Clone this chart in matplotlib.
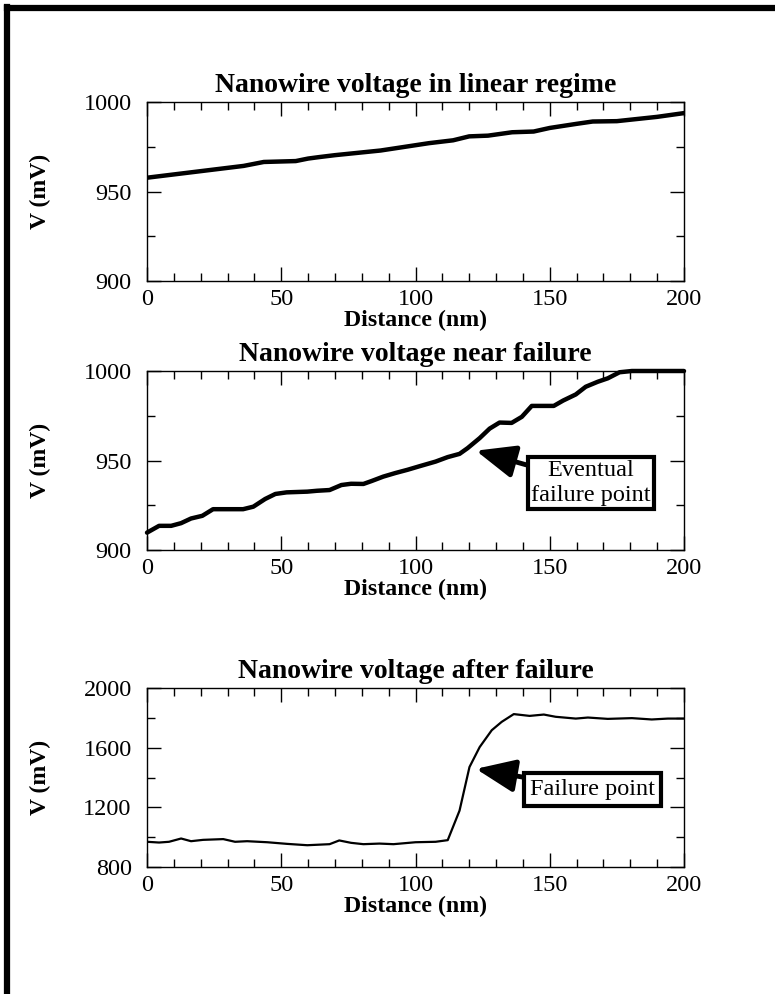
import matplotlib
matplotlib.use("Agg")
import matplotlib.pyplot as plt
from matplotlib.lines import Line2D
from matplotlib.ticker import MultipleLocator

plt.rcParams['font.family'] = ['Liberation Serif', 'DejaVu Serif']

# ---- data ----
d1 = [0, 36, 43.5, 55.4, 60, 64, 70, 87, 105, 114, 120, 127, 136, 144, 150, 160, 166, 175, 190, 200]
v1 = [957.7, 964.3, 966.5, 967, 968.4, 969.2, 970.3, 972.9, 977, 978.6, 980.8, 981.2, 983.1, 983.5,
      985.5, 987.8, 989.1, 989.3, 991.7, 993.8]

d2 = [0, 4.5, 9, 12.7, 16.4, 20.6, 24.6, 35.8, 39.6, 44, 47.8, 52, 59.7, 63.4, 68, 72.4, 76, 80.6,
      83.6, 88, 92.5, 97, 101.5, 107.5, 112, 116.4, 119.4, 123.9, 127.6, 131.3, 135.8, 139.6, 143.3,
      147, 151.5, 155, 159.7, 163.4, 167.9, 171.6, 176, 180.6, 200]
v2 = [909.7, 913.5, 913.5, 915, 917.6, 919.1, 922.8, 922.8, 924.2, 928.5, 931.3, 932.2, 932.6, 933.1,
      933.5, 936.3, 937, 936.9, 938.5, 941, 943, 944.8, 946.8, 949.4, 951.9, 953.7, 956.9, 962.5,
      967.8, 971.2, 971, 974.4, 980.5, 980.5, 980.5, 983.5, 986.9, 991.2, 994, 995.9, 999.3, 1000, 1000]

d3 = [0, 4.5, 8.2, 12.7, 16.4, 20.9, 28.4, 32.8, 37.3, 44.8, 52.2, 59.7, 68, 71.6, 76, 80.6, 86.6,
      91.8, 100, 107.5, 112, 116.4, 120.1, 123.9, 128.4, 132.1, 136.6, 142.5, 147.8, 152.2, 159.7,
      164.2, 171.6, 180.6, 188, 194, 200]
v3 = [969, 964, 969, 991, 973, 982, 987, 969, 973, 966, 955, 946, 953, 978, 962, 953, 957, 953, 966,
      969, 980, 1178, 1470, 1604, 1717, 1773, 1825, 1813, 1822, 1807, 1795, 1802, 1793, 1798, 1789,
      1795, 1795]

titles = ["Nanowire voltage in linear regime", "Nanowire voltage near failure",
          "Nanowire voltage after failure"]
xlabel = "Distance (nm)"
ylabel = "V (mV)"
xticks = [0, 50, 100, 150, 200]
yticks1 = [900, 950, 1000]
yticks3 = [800, 1200, 1600, 2000]

W, H = 775, 994
fig = plt.figure(figsize=(W / 100, H / 100), dpi=100)

left = 147 / W
width = (684 - 147) / W
tops = [102, 371, 688]
hgt = 179

def make_ax(top):
    ax = fig.add_axes([left, 1 - (top + hgt) / H, width, hgt / H])
    for s in ax.spines.values():
        s.set_linewidth(1.0)
    ax.tick_params(which='both', direction='in', top=True, right=True, labelsize=17.5)
    ax.tick_params(axis='x', pad=6)
    ax.tick_params(axis='y', pad=11)
    ax.tick_params(which='major', length=10, width=1)
    ax.tick_params(which='minor', length=6, width=1)
    ax.set_xlim(0, 200)
    ax.set_xticks(xticks)
    ax.xaxis.set_minor_locator(MultipleLocator(10))
    ax.set_xlabel(xlabel, fontsize=17.2, fontweight='bold', labelpad=0)
    ax.set_ylabel(ylabel, fontsize=17, fontweight='bold')
    ax.yaxis.set_label_coords((51 - 147) / (684 - 147), 0.5)
    return ax

arrow_kw = dict(arrowstyle='-|>,head_length=1.2,head_width=0.5', lw=3.5,
                color='black', shrinkA=0, shrinkB=0, mutation_scale=20)

ax1 = make_ax(tops[0])
ax1.plot(d1, v1, color='black', lw=3.2, solid_capstyle='round')
ax1.set_ylim(900, 1000)
ax1.set_yticks(yticks1)
ax1.yaxis.set_minor_locator(MultipleLocator(25))
ax1.set_title(titles[0], fontsize=20, fontweight='bold', pad=7)

ax2 = make_ax(tops[1])
ax2.plot(d2, v2, color='black', lw=3.2, solid_capstyle='round', clip_on=False)
ax2.set_ylim(900, 1000)
ax2.set_yticks(yticks1)
ax2.yaxis.set_minor_locator(MultipleLocator(25))
ax2.set_title(titles[1], fontsize=20, fontweight='bold', pad=7)
ax2.annotate("Eventual\nfailure point", xy=(122.5, 955.5), xytext=(165.3, 937.4),
             fontsize=17.5, ha='center', va='center', linespacing=1.2,
             bbox=dict(boxstyle='square,pad=0.14', fc='white', ec='black', lw=3),
             arrowprops=arrow_kw)

ax3 = make_ax(tops[2])
ax3.plot(d3, v3, color='black', lw=1.6)
ax3.set_ylim(800, 2000)
ax3.set_yticks(yticks3)
ax3.yaxis.set_minor_locator(MultipleLocator(200))
ax3.set_title(titles[2], fontsize=20, fontweight='bold', pad=7)
ax3.annotate("Failure point", xy=(122.5, 1458), xytext=(166, 1320),
             fontsize=17.5, ha='center', va='center',
             bbox=dict(boxstyle='square,pad=0.25', fc='white', ec='black', lw=3),
             arrowprops=arrow_kw)

# frame border (left and top)
fig.add_artist(Line2D([6.5 / W, 6.5 / W], [0, 1 - 6.5 / H], color='black', lw=4.5,
                      transform=fig.transFigure, solid_capstyle='projecting'))
fig.add_artist(Line2D([6.5 / W, 1], [1 - 7.5 / H, 1 - 7.5 / H], color='black', lw=4.5,
                      transform=fig.transFigure, solid_capstyle='projecting'))

fig.savefig("out.png", dpi=100)
